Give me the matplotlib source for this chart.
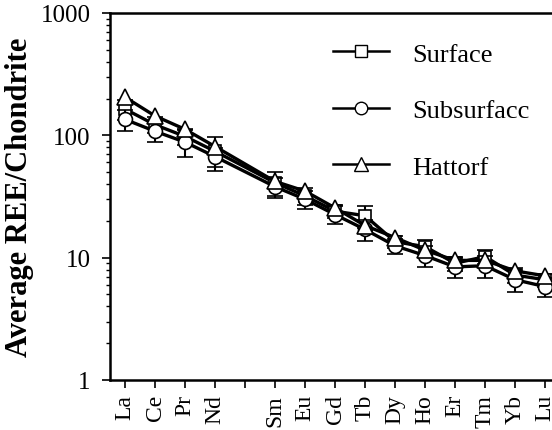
import matplotlib
matplotlib.use("Agg")
import matplotlib.pyplot as plt
from matplotlib.lines import Line2D
import numpy as np

# ---- data ----
tick_labels = ["La", "Ce", "Pr", "Nd", "", "Sm", "Eu", "Gd", "Tb", "Dy", "Ho", "Er", "Tm", "Yb", "Lu"]
elements = ["La", "Ce", "Pr", "Nd", "Sm", "Eu", "Gd", "Tb", "Dy", "Ho", "Er", "Tm", "Yb", "Lu"]
surface = [164, 122, 98, 74, 41, 32, 24, 22, 13.5, 12.3, 9.0, 10.2, 7.2, 6.6]
surface_err = [30, 18, 15, 23, 9, 5, 3, 4.5, 1.5, 1.6, 1.2, 1.3, 1.0, 0.8]
subsurface = [135, 108, 88, 67, 38, 30, 22.5, 17, 12.5, 10.4, 8.4, 8.6, 6.6, 5.8]
subsurface_err = [27, 20, 22, 12, 7, 5, 3.7, 3.3, 1.8, 2.0, 1.6, 1.8, 1.4, 1.0]
hattorf = [205, 144, 112, 81, 42, 35, 25.5, 18.3, 14.6, 11.5, 9.5, 9.5, 7.8, 7.1]
series_names = ["Surface", "Subsurfacc", "Hattorf"]

x = np.array([tick_labels.index(e) for e in elements])

plt.rcParams['font.family'] = ['Liberation Serif', 'DejaVu Serif']

fig = plt.figure(figsize=(5.52, 4.31), dpi=100)
ax = fig.add_axes([110/552, 50/431, 1 - 110/552, (381-14)/431])

lw = 2.4
ms = 9
common = dict(color='black', lw=lw, mfc='white', mec='black', mew=1.2,
              ecolor='black', elinewidth=1.5, capsize=6, capthick=3)

ax.errorbar(x, surface, yerr=surface_err, marker='s', ms=ms-1, zorder=3, **common)
ax.errorbar(x, subsurface, yerr=subsurface_err, marker='o', ms=ms+1, zorder=4, **common)
ax.plot(x, hattorf, marker='^', ms=ms+2, color='black', lw=lw, mfc='white', mec='black', mew=1.2,
        zorder=5)

ax.set_yscale('log')
ax.set_ylim(1, 1000)
ax.set_xlim(-0.5, 14.23)
ax.set_xticks(range(len(tick_labels)))
ax.set_xticklabels(tick_labels, rotation=90, fontsize=17)
ax.set_yticks([1, 10, 100, 1000])
ax.set_yticklabels(["1", "10", "100", "1000"], fontsize=18)

ax.spines['right'].set_visible(False)
for s in ['left', 'bottom', 'top']:
    ax.spines[s].set_linewidth(1.8)
ax.tick_params(axis='both', which='major', direction='out', length=6, width=1.2, pad=3)
ax.tick_params(axis='y', which='minor', direction='out', length=3, width=1.0)
ax.tick_params(axis='y', which='major', pad=8)
ax.tick_params(axis='x', which='major', length=6, pad=4)

ax.set_ylabel("Average REE/Chondrite", fontsize=22, fontweight='bold', labelpad=5)

handles = [
    Line2D([], [], color='black', lw=1.8, marker='s', ms=8, mfc='white', mec='black', mew=1.0),
    Line2D([], [], color='black', lw=1.8, marker='o', ms=9, mfc='white', mec='black', mew=1.0),
    Line2D([], [], color='black', lw=1.8, marker='^', ms=10, mfc='white', mec='black', mew=1.0),
]
leg = ax.legend(handles, series_names, loc='upper left', bbox_to_anchor=(0.45, 0.985),
                frameon=False, fontsize=19, handlelength=2.15, handletextpad=0.85,
                labelspacing=1.25)

fig.savefig("out.png", dpi=100)
